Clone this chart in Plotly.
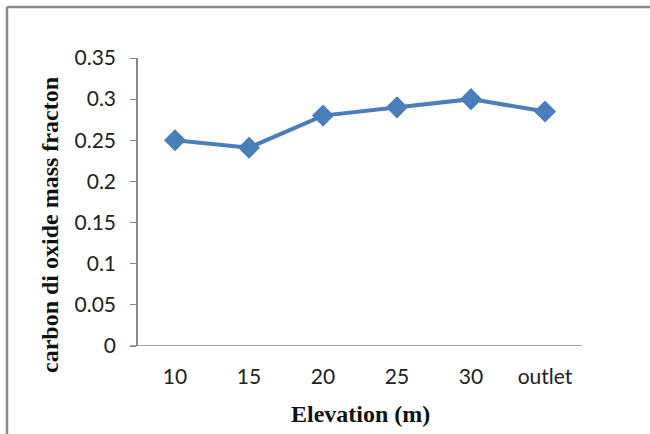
import plotly.graph_objects as go

# Elevation categories and CO2 mass fraction readings
elevations = ["10", "15", "20", "25", "30", "outlet"]
co2_fraction = [0.25, 0.241, 0.28, 0.29, 0.30, 0.285]
y_ticks = [0, 0.05, 0.1, 0.15, 0.2, 0.25, 0.3, 0.35]
y_ticklabels = ["0", "0.05", "0.1", "0.15", "0.2", "0.25", "0.3", "0.35"]

W, H = 650, 434
L, R, T, B = 138, 68, 58, 88
plot_w = W - L - R
plot_h = H - T - B

line_color = "rgb(74,126,187)"
axis_color = "#868686"
title_font = dict(family="Liberation Serif, Times New Roman, serif", size=24, color="#111")

fig = go.Figure()
fig.add_trace(go.Scatter(
    x=elevations, y=co2_fraction, mode="lines+markers",
    line=dict(color=line_color, width=4),
    marker=dict(symbol="diamond", size=17, color=line_color),
    showlegend=False,
))

fig.update_layout(
    width=W, height=H,
    margin=dict(l=L, r=R, t=T, b=B),
    paper_bgcolor="white", plot_bgcolor="white",
    font=dict(family="Lato, Open Sans, sans-serif", size=21, color="#222"),
    xaxis=dict(
        type="category", showgrid=False, zeroline=False,
        showline=False, ticks="", ticklabelstandoff=16,
        range=[-0.5, len(elevations) - 0.5],
    ),
    yaxis=dict(
        range=[0, 0.35], tickvals=y_ticks, ticktext=y_ticklabels,
        showgrid=False, zeroline=False, showline=True,
        linecolor=axis_color, linewidth=1.5,
        ticks="outside", ticklen=6, tickcolor=axis_color,
        ticklabelstandoff=10,
    ),
    shapes=[
        # x axis baseline, extended left by the y=0 tick
        dict(type="line", xref="paper", yref="y",
             x0=-8 / plot_w, x1=1, y0=0, y1=0,
             line=dict(color=axis_color, width=1.5)),
        # chart frame (top and left edges)
        dict(type="line", xref="paper", yref="paper",
             x0=(7 - L) / plot_w, x1=(W + 5 - L) / plot_w,
             y0=(H - B - 7) / plot_h, y1=(H - B - 7) / plot_h,
             line=dict(color="#8a8a8a", width=2.5)),
        dict(type="line", xref="paper", yref="paper",
             x0=(7 - L) / plot_w, x1=(7 - L) / plot_w,
             y0=(H - B - 7) / plot_h, y1=(H - B - H - 5) / plot_h,
             line=dict(color="#8a8a8a", width=2.5)),
    ],
    annotations=[
        dict(text="<b>Elevation (m)</b>", xref="paper", yref="paper",
             x=0.5, y=(H - B - 414) / plot_h, showarrow=False,
             xanchor="center", yanchor="middle", font=title_font),
        dict(text="<b>carbon di oxide mass fracton</b>", xref="paper", yref="paper",
             x=(50 - L) / plot_w, y=(H - B - 225) / plot_h, textangle=-90,
             showarrow=False, xanchor="center", yanchor="middle", font=title_font),
    ],
)

fig.write_html("out.html")
